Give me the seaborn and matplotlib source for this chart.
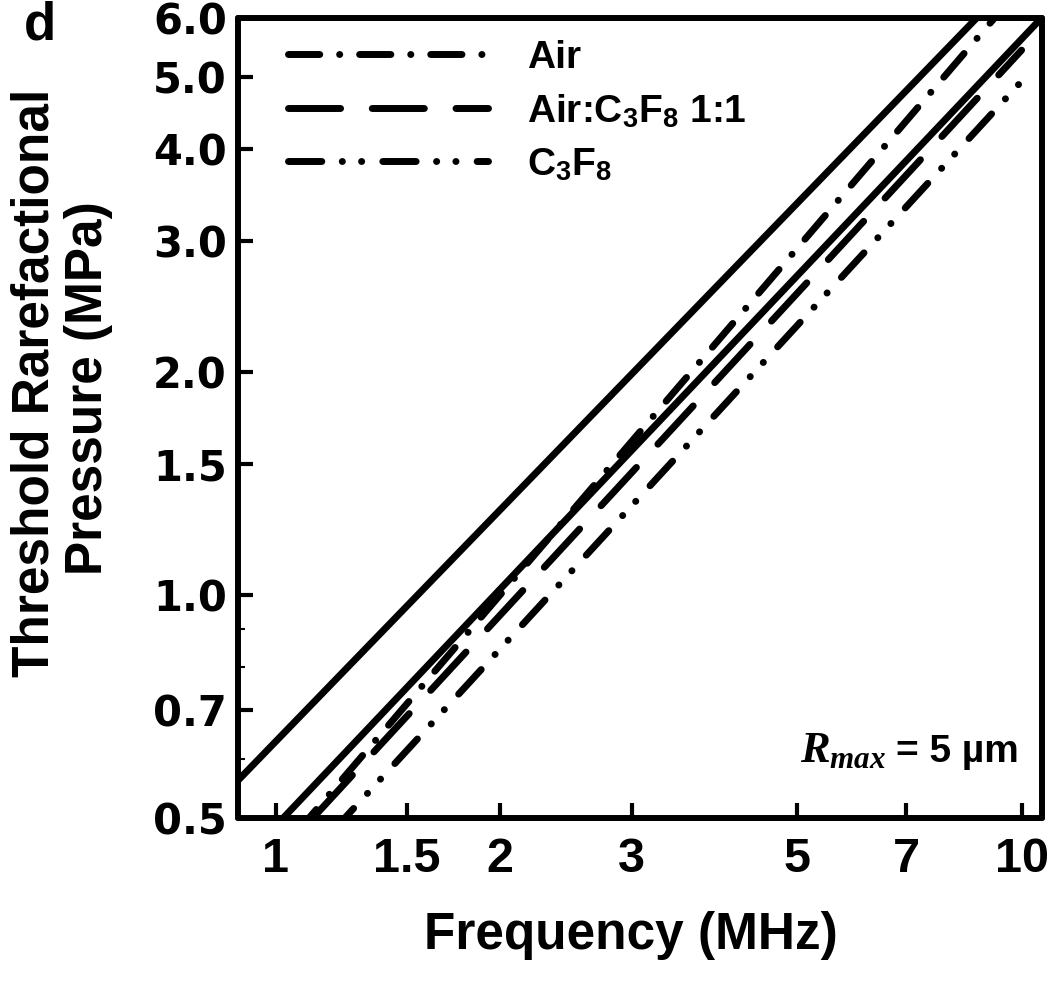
import numpy as np
import pandas as pd
import matplotlib
matplotlib.use("Agg")
import matplotlib.pyplot as plt
import seaborn as sns
from matplotlib import font_manager
from matplotlib.ticker import FixedLocator, FixedFormatter, NullLocator, NullFormatter

# ---------------- data ----------------
freq_range = [0.8, 10.0]            # MHz
freq_range_s2 = [0.8, 11.0]
solid_upper = [0.503, 6.93]         # MPa
solid_lower = [0.385, 6.22]
air = [0.341, 6.62]
air_c3f8 = [0.346, 5.43]
c3f8 = [0.310, 4.93]

xticks = [1, 1.5, 2, 3, 5, 7, 10]
xtick_labels = ["1", "1.5", "2", "3", "5", "7", "10"]
yticks = [0.5, 0.7, 1.0, 1.5, 2.0, 3.0, 4.0, 5.0, 6.0]
ytick_labels = ["0.5", "0.7", "1.0", "1.5", "2.0", "3.0", "4.0", "5.0", "6.0"]
yminor = [0.6, 0.8, 0.9]
legend_labels = ["Air", "Air:C$_3$F$_8$ 1:1", "C$_3$F$_8$"]

# ---------------- style ----------------
sns.set_style("ticks")
names = {f.name for f in font_manager.fontManager.ttflist}
narrow = "Liberation Sans Narrow" if "Liberation Sans Narrow" in names else "Liberation Sans"
plt.rcParams["font.family"] = ["Liberation Sans", "DejaVu Sans"]
for k in ["text.color", "axes.labelcolor", "xtick.color", "ytick.color", "axes.edgecolor"]:
    plt.rcParams[k] = "black"
plt.rcParams["lines.scale_dashes"] = False
plt.rcParams["mathtext.fontset"] = "custom"
plt.rcParams["mathtext.rm"] = "Liberation Sans:bold"
plt.rcParams["mathtext.bf"] = "Liberation Sans:bold"
plt.rcParams["mathtext.it"] = "Liberation Serif:italic:bold"

fig = plt.figure(figsize=(10.5, 9.88), dpi=100)
W, H = 1050, 988
ax = fig.add_axes([238 / W, 1 - 818 / H, (1042 - 238) / W, (818 - 18) / H])

LW = 5.0
def draw(x, y, ls):
    sns.lineplot(x=x, y=y, ax=ax, color="black", linewidth=LW, legend=False)
    ln = ax.lines[-1]
    ln.set_linestyle(ls)
    ln.set_dash_capstyle("round")
    ln.set_solid_capstyle("butt")
    return ln

draw(freq_range, solid_upper, "-")
draw(freq_range_s2, solid_lower, "-")
l_air = draw(freq_range, air, (0, (22.5, 14.3, 0.1, 14.3)))
l_mix = draw(freq_range, air_c3f8, (0, (37.5, 22.8)))
l_c3 = draw(freq_range, c3f8, (0, (24.0, 14.7, 0.1, 13.8, 0.1, 15.2)))

ax.set_xscale("log")
ax.set_yscale("log")
ax.set_xlim(0.89, 10.65)
ax.set_ylim(0.5, 6.0)

ax.xaxis.set_major_locator(FixedLocator(xticks))
ax.xaxis.set_major_formatter(FixedFormatter(xtick_labels))
ax.xaxis.set_minor_locator(NullLocator())
ax.yaxis.set_major_locator(FixedLocator(yticks))
ax.yaxis.set_major_formatter(FixedFormatter(ytick_labels))
ax.yaxis.set_minor_locator(FixedLocator(yminor))
ax.yaxis.set_minor_formatter(NullFormatter())

for s in ax.spines.values():
    s.set_linewidth(4.3)
    s.set_color("black")
    s.set_capstyle("round")

ax.tick_params(axis="both", which="major", direction="in", length=11, width=3, color="black")
ax.tick_params(axis="y", which="minor", direction="in", length=5, width=1.5, color="black")
ax.tick_params(axis="x", which="major", pad=14)
ax.tick_params(axis="y", which="major", pad=8)
for t in ax.get_xticklabels():
    t.set_fontfamily(narrow)
    t.set_fontweight("bold")
    t.set_fontsize(42 if narrow != "Liberation Sans" else 35)
for t in ax.get_yticklabels():
    t.set_fontfamily("DejaVu Sans")
    t.set_fontweight("bold")
    t.set_fontsize(30)

ax.set_xlabel("")
ax.set_ylabel("")

lab_size = 45 if narrow != "Liberation Sans" else 37
fig.text(35 / W, 1 - 383 / H, "Threshold Rarefactional", rotation=90, ha="center", va="center",
         fontsize=lab_size, fontweight="bold", family=narrow)
fig.text(89 / W, 1 - 388 / H, "Pressure (MPa)", rotation=90, ha="center", va="center",
         fontsize=lab_size, fontweight="bold", family=narrow)
fig.text(631 / W, 1 - 935 / H, "Frequency (MHz)", ha="center", va="center",
         fontsize=lab_size, fontweight="bold", family=narrow)
fig.text(24 / W, 1 - 0 / H, "d", ha="left", va="top", fontsize=38, fontweight="bold")

# annotation
fig.text(800 / W, 1 - 762 / H, r"$R_{max}$", ha="left", va="baseline", fontsize=32)
fig.text(1019 / W, 1 - 762 / H, "= 5 \u00b5m", ha="right", va="baseline", fontsize=28, fontweight="bold")

fs = 28
leg = ax.legend([l_air, l_mix, l_c3], legend_labels, loc="upper left",
                bbox_to_anchor=((288 - 238) / 804, 1 - (40 - 18) / 800),
                frameon=False, handlelength=200 / (fs / 0.72), handletextpad=1.0,
                labelspacing=0.42, borderaxespad=0, borderpad=0,
                prop={"family": "Liberation Sans", "weight": "bold", "size": fs})

fig.savefig("out.png", dpi=100)
